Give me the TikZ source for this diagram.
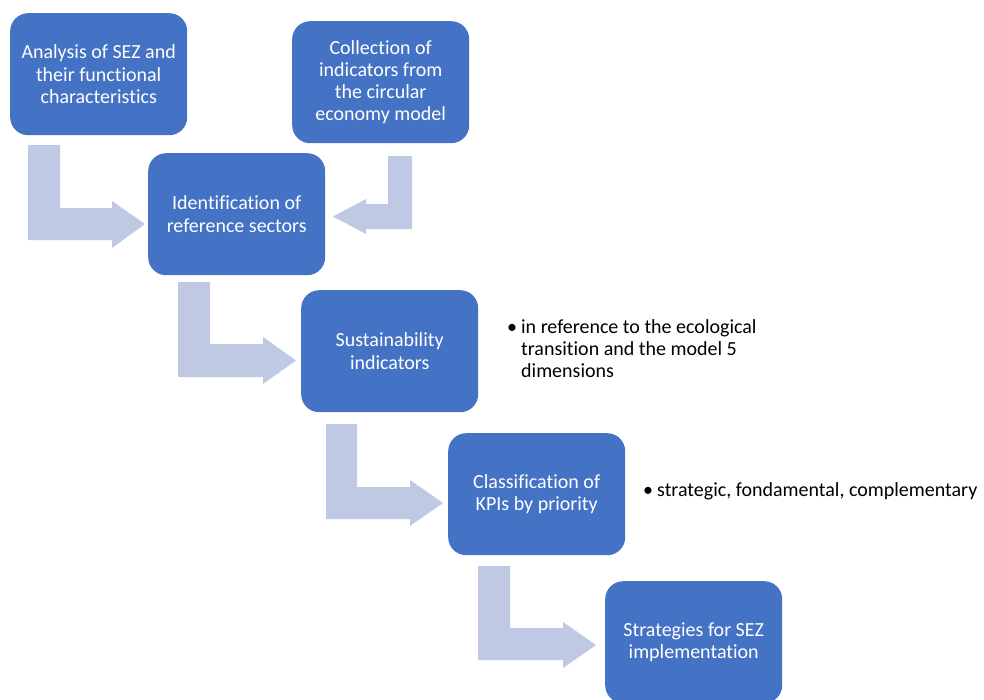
\documentclass[tikz,border=0pt]{standalone}
\usepackage{fontspec}
\setmainfont{Carlito}[RawFeature=-liga]
\definecolor{boxblue}{HTML}{4472C4}
\definecolor{arrowblue}{HTML}{BFC9E3}
\begin{document}
\begin{tikzpicture}[x=1pt,y=-1pt,
  box/.style={fill=boxblue, rounded corners=18pt, text=white, align=center,
    font=\fontsize{20}{22.3}\selectfont, minimum width=177pt, minimum height=122pt,
    inner sep=0pt, anchor=north west},
  blockarrow/.style={fill=arrowblue, draw=none},
  note/.style={anchor=base west, inner sep=0pt, font=\fontsize{20}{22}\selectfont}]
\useasboundingbox (0,0) rectangle (984,699);
\clip (0,0) rectangle (984,699);
% block arrows
\fill[blockarrow] (28,145) -- (60,145) -- (60,208) -- (112,208) -- (112,201) -- (145,224) -- (112,248) -- (112,240) -- (28,240) -- cycle;
\fill[blockarrow] (412,156) -- (388,156) -- (388,204) -- (366,204) -- (366,199) -- (333,216.5) -- (366,234) -- (366,229) -- (412,229) -- cycle;
\fill[blockarrow] (178,282) -- (210,282) -- (210,344) -- (263,344) -- (263,337) -- (296,360.5) -- (263,384) -- (263,377) -- (178,377) -- cycle;
\fill[blockarrow] (326,424) -- (357,424) -- (357,487) -- (410,487) -- (410,480) -- (443,503) -- (410,526) -- (410,519) -- (326,519) -- cycle;
\fill[blockarrow] (478,566) -- (510,566) -- (510,628) -- (563,628) -- (563,622) -- (596,645) -- (563,668) -- (563,660) -- (478,660) -- cycle;
% boxes
\node[box] (a) at (10,13) {Analysis of SEZ and\\their functional\\characteristics};
\node[box] (b) at (292,21) {Collection of\\indicators from\\the circular\\economy model};
\node[box] (c) at (148,153) {Identification of\\reference sectors};
\node[box] (d) at (301,290) {Sustainability\\indicators};
\node[box] (e) at (448,433) {Classification of\\KPIs by priority};
\node[box] (f) at (605,581) {Strategies for SEZ\\implementation};
% notes
\node[note] (n1) at (507,333) {\begin{tabular}[t]{@{}l@{\hspace{4pt}}l@{}}•&in reference to the ecological\\&transition and the model 5\\&dimensions\end{tabular}};
\node[note] (n2) at (643,496) {\begin{tabular}[t]{@{}l@{\hspace{4pt}}l@{}}•&strategic, fondamental, complementary\end{tabular}};
\end{tikzpicture}
\end{document}
